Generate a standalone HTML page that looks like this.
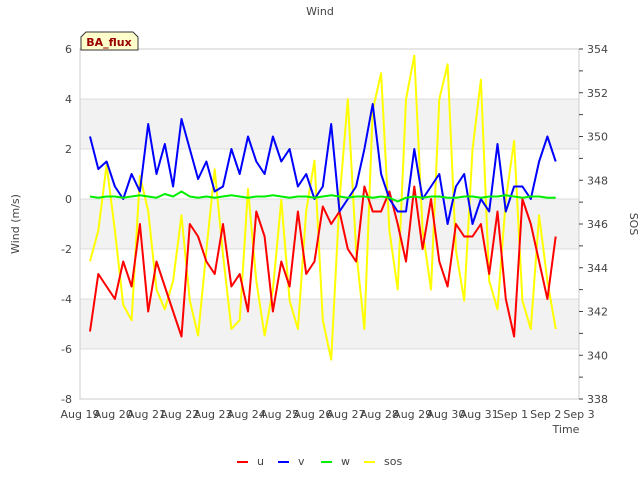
<!DOCTYPE html>
<html><head><meta charset="utf-8"><style>
body{margin:0;background:#fff;font-family:"Liberation Sans","DejaVu Sans",sans-serif;}
svg text{font-family:"DejaVu Sans","Liberation Sans",sans-serif;font-size:11px;fill:#444;}
</style></head><body>
<svg id="chart" width="640" height="480" xmlns="http://www.w3.org/2000/svg"></svg>
<script>
const dayLabels=["Aug 19","Aug 20","Aug 21","Aug 22","Aug 23","Aug 24","Aug 25","Aug 26","Aug 27","Aug 28","Aug 29","Aug 30","Aug 31","Sep 1","Sep 2","Sep 3"];
const leftTicks=[-8,-6,-4,-2,0,2,4,6];
const rightTicks=[338,340,342,344,346,348,350,352,354];
const tStart=0.3, tStep=0.25;
const uVals=[-5.3,-3,-3.5,-4,-2.5,-3.5,-1,-4.5,-2.5,-3.5,-4.5,-5.5,-1,-1.5,-2.5,-3,-1,-3.5,-3,-4.5,-0.5,-1.5,-4.5,-2.5,-3.5,-0.5,-3,-2.5,-0.3,-1,-0.5,-2,-2.5,0.5,-0.5,-0.5,0.3,-1,-2.5,0.5,-2,0,-2.5,-3.5,-1,-1.5,-1.5,-1,-3,-0.5,-4,-5.5,0,-1,-2.5,-4,-1.5];
const vVals=[2.5,1.2,1.5,0.5,0,1,0.3,3,1,2.2,0.5,3.2,2,0.8,1.5,0.3,0.5,2,1,2.5,1.5,1,2.5,1.5,2,0.5,1,0,0.5,3,-0.5,0,0.5,2,3.8,1,0,-0.5,-0.5,2,0,0.5,1,-1,0.5,1,-1,0,-0.5,2.2,-0.5,0.5,0.5,0,1.5,2.5,1.5];
const wVals=[0.1,0.05,0.1,0.1,0.05,0.1,0.15,0.1,0.05,0.2,0.1,0.3,0.1,0.05,0.1,0.05,0.1,0.15,0.1,0.05,0.1,0.1,0.15,0.1,0.05,0.1,0.1,0.05,0.1,0.15,0.1,0.05,0.1,0.1,0.05,0.1,0.05,-0.1,0.05,0.1,0.05,0.1,0.1,0.05,0.05,0.1,0.1,0.05,0.1,0.1,0.15,0.1,0.05,0.1,0.1,0.05,0.05];
const sosVals=[344.3,345.7,348.7,345.7,342.3,341.6,348.2,346.6,343.0,342.1,343.4,346.4,342.5,340.9,344.8,348.5,344.6,341.2,341.6,347.6,343.4,340.9,343.0,347.1,342.5,341.2,346.6,348.9,341.6,339.8,347.1,351.7,344.8,341.2,351.2,352.9,345.7,343.0,351.7,353.7,345.7,343.0,351.7,353.3,344.8,342.5,349.4,352.6,343.4,342.1,347.1,349.8,342.5,341.2,346.4,343.4,341.2];

const svg=document.getElementById('chart');
const NS="http://www.w3.org/2000/svg";
const X0=80,X1=579,Y0=49,Y1=399;
const xs=d=>X0+d*(X1-X0)/15;
const yL=v=>Y1-(v+8)*(Y1-Y0)/14;
const yR=v=>Y1-(v-338)*(Y1-Y0)/16;
function mk(tag,attrs,parent){const e=document.createElementNS(NS,tag);for(const k in attrs)e.setAttribute(k,attrs[k]);(parent||svg).appendChild(e);return e;}

[[4,2],[0,-2],[-4,-6]].forEach(b=>{const r=mk('rect',{x:X0,y:yL(b[0]),width:X1-X0,height:yL(b[1])-yL(b[0]),fill:'#f2f2f2'});

});
leftTicks.forEach(t=>{const l=mk('line',{x1:X0,x2:X1,y1:yL(t),y2:yL(t),stroke:'#dcdcdc','stroke-width':1});


const tx=mk('text',{x:X0-8,y:yL(t)+4,'text-anchor':'end'});tx.textContent=t;

});
const frame=mk('rect',{x:X0,y:Y0,width:X1-X0,height:Y1-Y0,fill:'none',stroke:'#ccc'});


dayLabels.forEach((s,i)=>{const tx=mk('text',{x:xs(i),y:418,'text-anchor':'middle'});tx.textContent=s;

});
rightTicks.forEach((t,i)=>{mk('line',{x1:X1,x2:X1+4,y1:yR(t),y2:yR(t),stroke:'#444'});
if(i<rightTicks.length-1)mk('line',{x1:X1,x2:X1+4,y1:yR(t+1),y2:yR(t+1),stroke:'#444'});
const tx=mk('text',{x:X1+8,y:yR(t)+4});tx.textContent=t;

});

function series(vals,ys,color,name){let d='';vals.forEach((v,i)=>{d+=(i?'L':'M')+xs(tStart+i*tStep).toFixed(1)+','+ys(v).toFixed(1);});
const p=mk('path',{d:d,fill:'none',stroke:color,'stroke-width':2,'stroke-linejoin':'round'});

}
series(sosVals,yR,'#ffff00','sos-line');
series(uVals,yL,'#ff0000','u-line');
series(vVals,yL,'#0000ff','v-line');
series(wVals,yL,'#00ee00','w-line');

function label(txt,x,y,name,extra){const t=mk('text',Object.assign({x:x,y:y},extra||{}));t.textContent=txt;

return t;}
label('Wind',320,15,'chart-title',{'text-anchor':'middle','font-size':'13'});
label('Wind (m/s)',19,224,'y-axis-title',{'text-anchor':'middle',transform:'rotate(-90 19 224)'});
label('SOS',630,224,'right-axis-title',{'text-anchor':'middle',transform:'rotate(90 630 224)'});
label('Time',566,433,'x-axis-title',{'text-anchor':'middle'});
const box=mk('path',{d:'M81,50 L81,37 L86,32 L133,32 L138,37 L138,50 Z',fill:'#ffffcc',stroke:'#333'});


const bt=label('BA_flux',109,46,'site-label',{'text-anchor':'middle','font-weight':'bold'});bt.style.fill='#990000';
[['u','#ff0000',237],['v','#0000ff',278],['w','#00ee00',321],['sos','#ffff00',364]].forEach(e=>{
const l=mk('line',{x1:e[2],x2:e[2]+11,y1:462,y2:462,stroke:e[1],'stroke-width':2});


label(e[0],e[2]+20,465,'legend-entry-'+e[0]);});
</script>
</body></html>
